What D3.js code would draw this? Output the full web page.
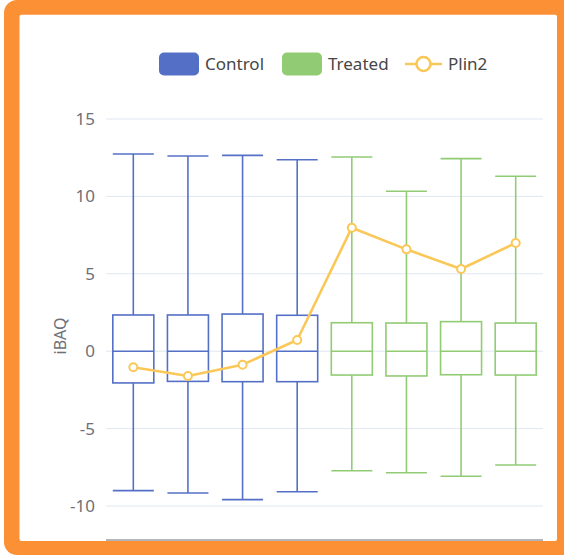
<!DOCTYPE html>
<html>
<head>
<meta charset="utf-8">
<script src="https://cdn.jsdelivr.net/npm/d3@7"></script>
<style>
  html, body { margin: 0; padding: 0; background: #ffffff; }
  svg { display: block; }
  text { font-family: "Noto Sans", "Open Sans", sans-serif; }
</style>
</head>
<body>
<svg id="chart" width="564" height="555"></svg>
<script>
// Samples, in plotting order
const samples = ["C1", "C2", "C3", "C4", "T1", "T2", "T3", "T4"];
const groups  = ["Control", "Control", "Control", "Control", "Treated", "Treated", "Treated", "Treated"];

// Box statistics per sample: [min, Q1, median, Q3, max]
const boxMin    = [-9.01, -9.16, -9.59, -9.08, -7.72, -7.85, -8.08, -7.35];
const boxQ1     = [-2.05, -1.95, -1.97, -1.97, -1.54, -1.60, -1.52, -1.54];
const boxMedian = [0.0, 0.0, 0.0, 0.0, 0.0, 0.0, 0.0, 0.0];
const boxQ3     = [2.34, 2.34, 2.40, 2.32, 1.84, 1.82, 1.91, 1.82];
const boxMax    = [12.74, 12.61, 12.65, 12.37, 12.55, 10.33, 12.44, 11.30];

// Plin2 iBAQ per sample
const plin2 = [-1.04, -1.60, -0.87, 0.72, 7.98, 6.58, 5.31, 6.99];

const yTicks = [-10, -5, 0, 5, 10, 15];
const legendItems = ["Control", "Treated", "Plin2"];

const colors = { Control: "#5470c6", Treated: "#91cc75", Plin2: "#fac858" };

const svg = d3.select("#chart");

// Card frame
svg.append("rect").attr("x", 4).attr("y", 0).attr("width", 640).attr("height", 555)
  .attr("rx", 13).attr("fill", "#fc9035");
svg.append("rect").attr("x", 19.5).attr("y", 14.7).attr("width", 537.5).attr("height", 526.3)
  .attr("rx", 2).attr("fill", "#ffffff");

const plot = { left: 106, right: 543, top: 119, bottom: 506 };

const x = d3.scaleBand().domain(samples).range([plot.left, plot.right]).padding(0);
const y = d3.scaleLinear().domain([-10, 15]).range([plot.bottom, plot.top]);

// Grid lines
svg.append("g").selectAll("line").data(yTicks).join("line")
  .attr("x1", plot.left).attr("x2", plot.right)
  .attr("y1", d => y(d)).attr("y2", d => y(d))
  .attr("stroke", "#e0e6f1").attr("stroke-width", 1);

// Y axis labels (plain hyphen for negatives)
const yAxis = d3.axisLeft(y).tickValues(yTicks).tickSize(0).tickPadding(11)
  .tickFormat(d => String(d));
const yg = svg.append("g").attr("transform", `translate(${plot.left},0)`).call(yAxis);
yg.select(".domain").remove();
yg.selectAll("text").attr("fill", "#6e7079").attr("font-size", 17)
  .style("font-family", '"Noto Sans", sans-serif');

// Y axis title
svg.append("text").attr("transform", "translate(66,336) rotate(-90)")
  .attr("text-anchor", "middle").attr("fill", "#6e7079").attr("font-size", 16)
  .text("iBAQ");

// X axis line along the bottom edge
svg.append("line").attr("x1", plot.left).attr("x2", plot.right)
  .attr("y1", 540).attr("y2", 540).attr("stroke", "#9a9ca4").attr("stroke-width", 1.5);

// Boxes
const boxW = 41;
const boxes = svg.append("g").selectAll("g").data(samples).join("g")
  .attr("stroke", (d, i) => colors[groups[i]]).attr("stroke-width", 1.6).attr("fill", "#ffffff");

boxes.each(function (d, i) {
  const g = d3.select(this);
  const cx = x(d) + x.bandwidth() / 2;
  const x0 = cx - boxW / 2, x1 = cx + boxW / 2;
  // whiskers
  g.append("line").attr("x1", cx).attr("x2", cx).attr("y1", y(boxMax[i])).attr("y2", y(boxQ3[i]));
  g.append("line").attr("x1", cx).attr("x2", cx).attr("y1", y(boxQ1[i])).attr("y2", y(boxMin[i]));
  g.append("line").attr("x1", x0).attr("x2", x1).attr("y1", y(boxMax[i])).attr("y2", y(boxMax[i]));
  g.append("line").attr("x1", x0).attr("x2", x1).attr("y1", y(boxMin[i])).attr("y2", y(boxMin[i]));
  // box and median
  g.append("rect").attr("x", x0).attr("y", y(boxQ3[i]))
    .attr("width", boxW).attr("height", y(boxQ1[i]) - y(boxQ3[i]));
  g.append("line").attr("x1", x0).attr("x2", x1).attr("y1", y(boxMedian[i])).attr("y2", y(boxMedian[i]));
});

// Plin2 line
const line = d3.line().x((d, i) => x(samples[i]) + x.bandwidth() / 2).y(d => y(d));
svg.append("path").datum(plin2).attr("d", line)
  .attr("fill", "none").attr("stroke", colors.Plin2).attr("stroke-width", 2.6)
  .attr("stroke-linejoin", "round");
svg.append("g").selectAll("circle").data(plin2).join("circle")
  .attr("cx", (d, i) => x(samples[i]) + x.bandwidth() / 2).attr("cy", d => y(d))
  .attr("r", 4).attr("fill", "#ffffff").attr("stroke", colors.Plin2).attr("stroke-width", 2);

// Legend
const legend = svg.append("g");
const lx = [159, 282, 405];
legendItems.forEach((name, i) => {
  const g = legend.append("g").attr("transform", `translate(${lx[i]},64)`);
  if (name === "Plin2") {
    g.append("line").attr("x1", 0).attr("x2", 37).attr("y1", 0).attr("y2", 0)
      .attr("stroke", colors.Plin2).attr("stroke-width", 2.6);
    g.append("circle").attr("cx", 18.5).attr("cy", 0).attr("r", 7)
      .attr("fill", "#ffffff").attr("stroke", colors.Plin2).attr("stroke-width", 2.6);
    g.append("text").attr("x", 43).attr("y", 0).attr("dy", "0.35em")
      .attr("fill", "#464646").attr("font-size", 17).text(name);
  } else {
    g.append("rect").attr("x", 0).attr("y", -11.5).attr("width", 40).attr("height", 23)
      .attr("rx", 5).attr("fill", colors[name]);
    g.append("text").attr("x", 46).attr("y", 0).attr("dy", "0.35em")
      .attr("fill", "#464646").attr("font-size", 17).text(name);
  }
});
</script>
</body>
</html>
